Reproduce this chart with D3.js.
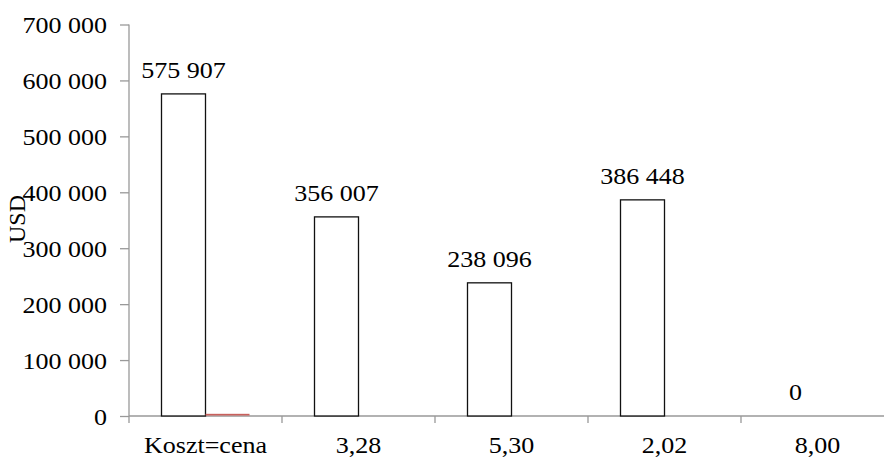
<!DOCTYPE html>
<html>
<head>
<meta charset="utf-8">
<script src="https://cdn.jsdelivr.net/npm/d3@7"></script>
<style>
  html, body { margin: 0; padding: 0; background: #fff; }
  svg { display: block; }
</style>
</head>
<body>
<svg id="chart" width="884" height="457"></svg>
<script>
// Categories (cost ratios) and the two series plotted per category
const categories = ["Koszt=cena", "3,28", "5,30", "2,02", "8,00"];
const mainValues = [575907, 356007, 238096, 386448, 0];
const secondValues = [3000, 0, 0, 0, 0];
const yTicks = [0, 100000, 200000, 300000, 400000, 500000, 600000, 700000];
const yTitle = "USD";

(function draw() {
  const svg = d3.select("#chart");
  const W = 884;
  const plotLeft = 129, plotTop = 24.5, plotBottom = 416;
  const band = 153;
  const face = "Liberation Serif";
  const fs = 24;
  const sx = 1.085; // slightly wide glyphs

  const x = d3.scaleBand()
    .domain(categories)
    .range([plotLeft, plotLeft + band * categories.length])
    .paddingInner(0).paddingOuter(0);

  const y = d3.scaleLinear().domain([0, 700000]).range([plotBottom, plotTop]);

  const fmt = v => d3.format(",")(v).replace(/,/g, " ");

  const barW = 44;
  const groupOffset = (band - 2 * barW) / 2;
  const axisColor = "#999";

  // y axis
  const yAxis = svg.append("g")
    .attr("transform", `translate(${plotLeft},0)`)
    .call(d3.axisLeft(y).tickValues(yTicks).tickFormat(fmt).tickSize(9).tickPadding(13));
  yAxis.attr("font-family", face).attr("font-size", fs);
  yAxis.select(".domain").attr("stroke", axisColor).attr("stroke-width", 1.3)
    .attr("d", `M0,${plotTop}V${plotBottom}`);
  yAxis.selectAll(".tick line").attr("stroke", axisColor).attr("stroke-width", 1.3);
  yAxis.selectAll(".tick text")
    .attr("font-family", face)
    .attr("font-size", fs)
    .attr("fill", "#000")
    .attr("x", -22 / sx)
    .attr("transform", `scale(${sx},1)`)
    .attr("dy", "0.34em");

  // x axis baseline with category boundary ticks
  const xg = svg.append("g");
  xg.append("line")
    .attr("x1", plotLeft).attr("x2", W)
    .attr("y1", plotBottom).attr("y2", plotBottom)
    .attr("stroke", axisColor).attr("stroke-width", 1.3);
  xg.selectAll("line.tick")
    .data(categories)
    .join("line")
    .attr("class", "tick")
    .attr("x1", d => x(d)).attr("x2", d => x(d))
    .attr("y1", plotBottom).attr("y2", plotBottom + 7)
    .attr("stroke", axisColor).attr("stroke-width", 1.3);
  xg.selectAll("text")
    .data(categories)
    .join("text")
    .attr("transform", d => `translate(${x(d) + band / 2},453) scale(${sx},1)`)
    .attr("text-anchor", "middle")
    .attr("font-family", face)
    .attr("font-size", fs)
    .text(d => d);

  // main series: outlined white bars
  svg.append("g").selectAll("rect")
    .data(categories.map((c, i) => ({ c, v: mainValues[i] })))
    .join("rect")
    .attr("x", d => x(d.c) + groupOffset)
    .attr("y", d => y(d.v))
    .attr("width", barW)
    .attr("height", d => y(0) - y(d.v))
    .attr("fill", "#fff")
    .attr("stroke", "#111")
    .attr("stroke-width", 1.3);

  // second series: red bars beside the main ones
  svg.append("g").selectAll("rect")
    .data(categories.map((c, i) => ({ c, v: secondValues[i] })).filter(d => d.v > 0))
    .join("rect")
    .attr("x", d => x(d.c) + groupOffset + barW)
    .attr("y", d => y(d.v) - 0.5)
    .attr("width", barW)
    .attr("height", d => y(0) - y(d.v))
    .attr("fill", "#c9605c");

  // value labels over the main bars
  svg.append("g").selectAll("text")
    .data(categories.map((c, i) => ({ c, v: mainValues[i] })))
    .join("text")
    .attr("transform", d => `translate(${x(d.c) + groupOffset + barW / 2},${y(d.v) - 16}) scale(${sx},1)`)
    .attr("text-anchor", "middle")
    .attr("font-family", face)
    .attr("font-size", fs)
    .text(d => fmt(d.v));

  // y axis title
  svg.append("text")
    .attr("transform", "translate(25,219) rotate(-90)")
    .attr("text-anchor", "middle")
    .attr("font-family", face)
    .attr("font-size", fs)
    .text(yTitle);
})();
</script>
</body>
</html>
